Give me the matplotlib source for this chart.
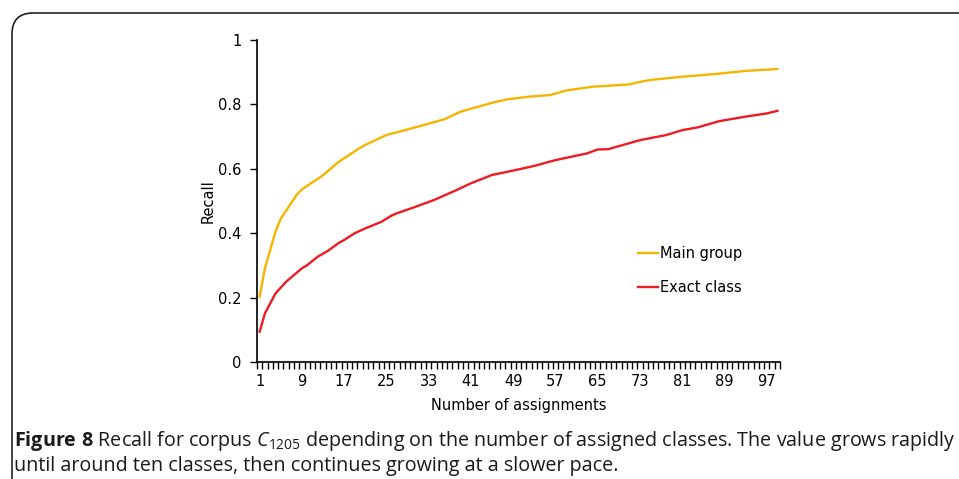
"""Recall vs. number of assignments (Figure 8 recreation)."""

import matplotlib

matplotlib.use("Agg")
import matplotlib.pyplot as plt
from matplotlib.patches import FancyBboxPatch
from matplotlib.ticker import FixedLocator

# Values (category index -> recall)
main_x = [1, 2, 4, 5, 8, 9, 13, 16, 20, 21, 25, 31, 36, 39, 45, 48, 52, 56,
          59, 64, 69, 71, 73, 75, 81, 87, 93, 99]
main_y = [0.203, 0.291, 0.405, 0.445, 0.519, 0.536, 0.580, 0.622, 0.665, 0.674,
          0.705, 0.731, 0.754, 0.777, 0.805, 0.816, 0.824, 0.829, 0.843, 0.855,
          0.860, 0.862, 0.870, 0.876, 0.886, 0.894, 0.904, 0.910]

exact_x = [1, 2, 4, 6, 9, 10, 12, 14, 16, 17, 19, 21, 24, 26, 27, 30, 34, 38,
           41, 45, 48, 53, 57, 63, 65, 67, 73, 78, 81, 84, 88, 93, 97, 99]
exact_y = [0.094, 0.151, 0.213, 0.249, 0.291, 0.301, 0.327, 0.346, 0.370, 0.379,
           0.400, 0.415, 0.435, 0.455, 0.462, 0.479, 0.503, 0.532, 0.555, 0.581,
           0.591, 0.609, 0.627, 0.648, 0.660, 0.661, 0.689, 0.705, 0.720, 0.729,
           0.748, 0.762, 0.772, 0.780]

x_tick_labels = list(range(1, 98, 8))
y_ticks = [0, 0.2, 0.4, 0.6, 0.8, 1]
y_tick_labels = ["0", "0.2", "0.4", "0.6", "0.8", "1"]

MAIN_COLOR = "#F5B400"
EXACT_COLOR = "#EC1C24"

plt.rcParams["font.family"] = ["DejaVu Sans"]
plt.rcParams["mathtext.fontset"] = "custom"
plt.rcParams["mathtext.rm"] = "Open Sans"
plt.rcParams["mathtext.it"] = "Open Sans:italic"
plt.rcParams["mathtext.bf"] = "Open Sans:bold"

fig = plt.figure(figsize=(9.59, 4.79), dpi=100)

# rounded frame that runs off the right and bottom edges
frame = FancyBboxPatch(
    (12 / 959, -0.2), 1.2, 1.2 - 13 / 479,
    boxstyle="round,pad=0,rounding_size=0.022",
    transform=fig.transFigure, fill=False, edgecolor="#222222", linewidth=1.2,
    mutation_aspect=2.0,
)
fig.patches.append(frame)

ax = fig.add_axes([257 / 959, 1 - 362 / 479, (780 - 257) / 959, (362 - 40) / 479])
ax.plot(main_x, main_y, color=MAIN_COLOR, lw=1.7, label="Main group")
ax.plot(exact_x, exact_y, color=EXACT_COLOR, lw=1.7, label="Exact class")

ax.set_xlim(0.5, 99.5)
ax.set_ylim(0, 1)
for side in ("top", "right"):
    ax.spines[side].set_visible(False)
for side in ("left", "bottom"):
    ax.spines[side].set_linewidth(1.3)
    ax.spines[side].set_color("#111111")

ax.set_xticks(x_tick_labels)
ax.set_xticklabels([str(v) for v in x_tick_labels])
ax.xaxis.set_minor_locator(FixedLocator([i + 0.5 for i in range(0, 100)]))
ax.tick_params(axis="x", which="major", length=0, pad=9, labelsize=10.5)
ax.tick_params(axis="x", which="minor", length=5, width=1.0, direction="out")
ax.set_yticks(y_ticks)
ax.set_yticklabels(y_tick_labels)
ax.tick_params(axis="y", length=5, width=1.0, labelsize=10.5, pad=6)

ax.set_xlabel("Number of assignments", fontsize=10.5, labelpad=6)
ax.set_ylabel("Recall", fontsize=10.5, labelpad=2)

ax.legend(
    loc="upper left", bbox_to_anchor=(0.728, 0.36), frameon=False, fontsize=10.5,
    handlelength=1.4, handletextpad=0.1, labelspacing=1.3, borderaxespad=0,
    borderpad=0,
)

caption1 = (r"$\mathbf{Figure\ 8}$ Recall for corpus $\mathit{C}_{\mathrm{1205}}$ depending on "
            "the number of assigned classes. The value grows rapidly")
caption2 = "until around ten classes, then continues growing at a slower pace."
fig.text(14 / 959, 1 - 441 / 479, caption1, fontsize=14.2, family="Open Sans",
         va="center", color="#1a1a1a")
fig.text(14 / 959, 1 - 466 / 479, caption2, fontsize=14.2, family="Open Sans",
         va="center", color="#1a1a1a")

fig.savefig("out.png", dpi=100)
